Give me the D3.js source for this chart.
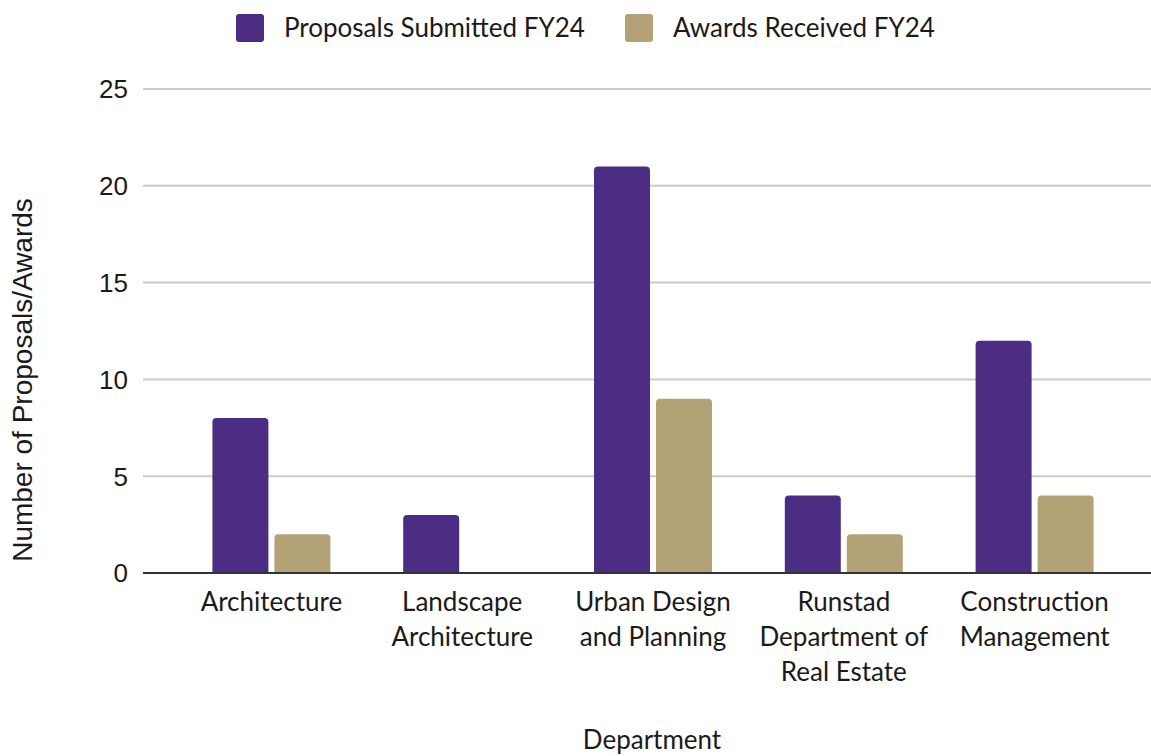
<!DOCTYPE html>
<html>
<head>
<meta charset="utf-8">
<script src="https://cdn.jsdelivr.net/npm/d3@7"></script>
<style>
  body { margin: 0; background: #fff; }
  svg { display: block; }
</style>
</head>
<body>
<svg id="chart"></svg>
<script>
// Data
const departments = [
  ["Architecture"],
  ["Landscape", "Architecture"],
  ["Urban Design", "and Planning"],
  ["Runstad", "Department of", "Real Estate"],
  ["Construction", "Management"]
];
const proposals = [8, 3, 21, 4, 12];
const awards = [2, 0, 9, 2, 4];
const seriesNames = ["Proposals Submitted FY24", "Awards Received FY24"];
const seriesColors = ["#4b2e83", "#b3a276"];
const yTicks = [0, 5, 10, 15, 20, 25];

const W = 1151, H = 756;
const labelFont = "Lato, 'Open Sans', sans-serif";
const numFont = "'Liberation Sans', Arial, sans-serif";

const svg = d3.select("#chart").attr("width", W).attr("height", H);

const rows = departments.map((d, i) => ({ name: d.join(" "), lines: d, vals: [proposals[i], awards[i]] }));

// Scales
const x = d3.scaleBand()
  .domain(rows.map(d => d.name))
  .range([176, 1130])
  .paddingInner(0)
  .paddingOuter(0);

const y = d3.scaleLinear().domain([0, 25]).range([573, 89]);

const barW = 56, gap = 6;
const xSub = d3.scaleOrdinal().domain([0, 1]).range([-(barW + gap / 2), gap / 2]);

// Gridlines
svg.append("g")
  .selectAll("line")
  .data(yTicks.filter(t => t > 0))
  .join("line")
  .attr("x1", 143).attr("x2", W)
  .attr("y1", d => y(d)).attr("y2", d => y(d))
  .attr("stroke", "#cccccc")
  .attr("stroke-width", 2);

// Y tick labels
svg.append("g")
  .selectAll("text")
  .data(yTicks)
  .join("text")
  .attr("x", 128)
  .attr("y", d => y(d))
  .attr("dy", "0.36em")
  .attr("text-anchor", "end")
  .attr("font-family", numFont)
  .attr("font-size", 26)
  .attr("fill", "#1a1a1a")
  .text(d => d);

// Rounded-top bar path
function barPath(x0, w, yTop, yBase, r) {
  const h = yBase - yTop;
  if (h <= 0) return "";
  r = Math.min(r, h, w / 2);
  return `M${x0},${yBase}V${yTop + r}Q${x0},${yTop} ${x0 + r},${yTop}` +
    `H${x0 + w - r}Q${x0 + w},${yTop} ${x0 + w},${yTop + r}V${yBase}Z`;
}

// Bars
const groups = svg.append("g")
  .selectAll("g")
  .data(rows)
  .join("g")
  .attr("transform", d => `translate(${x(d.name) + x.bandwidth() / 2},0)`);

groups.selectAll("path")
  .data(d => d.vals.map((v, i) => ({ v, i })))
  .join("path")
  .attr("d", d => barPath(xSub(d.i), barW, y(d.v), y(0), 4))
  .attr("fill", d => seriesColors[d.i]);

// Baseline
svg.append("line")
  .attr("x1", 143).attr("x2", W)
  .attr("y1", y(0)).attr("y2", y(0))
  .attr("stroke", "#333")
  .attr("stroke-width", 2);

// X category labels
const xl = svg.append("g")
  .selectAll("text")
  .data(rows)
  .join("text")
  .attr("x", d => x(d.name) + x.bandwidth() / 2)
  .attr("y", 611)
  .attr("text-anchor", "middle")
  .attr("font-family", labelFont)
  .attr("font-size", 26)
  .attr("fill", "#1a1a1a");

xl.selectAll("tspan")
  .data(d => d.lines)
  .join("tspan")
  .attr("x", function () { return d3.select(this.parentNode).attr("x"); })
  .attr("dy", (d, i) => i === 0 ? 0 : 35)
  .text(d => d);

// Axis titles
svg.append("text")
  .attr("x", 652).attr("y", 749)
  .attr("text-anchor", "middle")
  .attr("font-family", labelFont)
  .attr("font-size", 26)
  .attr("fill", "#1a1a1a")
  .text("Department");

svg.append("text")
  .attr("transform", "translate(32,380) rotate(-90)")
  .attr("text-anchor", "middle")
  .attr("font-family", numFont)
  .attr("font-size", 28)
  .attr("fill", "#1a1a1a")
  .text("Number of Proposals/Awards");

// Legend
const legendX = [236, 625];
const legend = svg.append("g")
  .selectAll("g")
  .data(seriesNames)
  .join("g")
  .attr("transform", (d, i) => `translate(${legendX[i]},14)`);

legend.append("rect")
  .attr("width", 28).attr("height", 28)
  .attr("rx", 3)
  .attr("fill", (d, i) => seriesColors[i]);

legend.append("text")
  .attr("x", 48).attr("y", 23)
  .attr("font-family", labelFont)
  .attr("font-size", 26)
  .attr("fill", "#1a1a1a")
  .text(d => d);
</script>
</body>
</html>
